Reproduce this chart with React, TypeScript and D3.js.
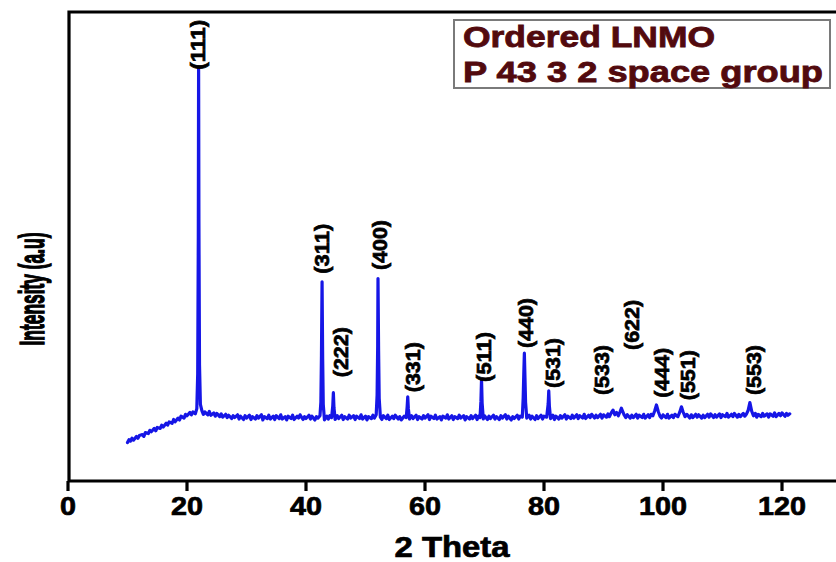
import React from "react";
import * as d3 from "d3";

// Measured XRD pattern: [2θ (deg), intensity (a.u.)]
const trace: [number, number][] = [
  [10.0, 84], [10.25, 90], [10.5, 87], [10.75, 93], [11.0, 89], [11.5, 97], [11.75, 93], [12.0, 99], [12.5, 101],
  [12.75, 97], [13.0, 105], [13.5, 103], [13.75, 110], [14.0, 107], [14.5, 114], [14.75, 109], [15.0, 116],
  [15.5, 114], [15.75, 121], [16.0, 117], [16.5, 125], [16.75, 121], [17.0, 128], [17.5, 125], [17.75, 133],
  [18.0, 128], [18.5, 136], [18.75, 132], [19.0, 140], [19.5, 136], [19.75, 144], [20.0, 141], [20.5, 148],
  [20.75, 143], [21.0, 149], [21.4, 145], [21.65, 156], [21.8, 230], [21.9, 520], [21.95, 883], [22.0, 560],
  [22.1, 250], [22.25, 165], [22.5, 152], [22.75, 144], [23.0, 149], [23.5, 143], [23.75, 150], [24.0, 142],
  [24.5, 147], [24.75, 140], [25.0, 146], [25.5, 139], [25.75, 145], [26.0, 138], [26.5, 144], [26.75, 137],
  [27.0, 142], [27.5, 135], [27.75, 141], [28.0, 137], [28.5, 143], [28.75, 134], [29.0, 140], [29.5, 133],
  [29.75, 141], [30.0, 136], [30.5, 142], [30.75, 133], [31.0, 139], [31.5, 134], [31.75, 141], [32.0, 136],
  [32.5, 143], [32.75, 132], [33.0, 139], [33.5, 135], [33.75, 142], [34.0, 134], [34.5, 140], [34.75, 133],
  [35.0, 141], [35.5, 135], [35.75, 143], [36.0, 134], [36.5, 139], [36.75, 132], [37.0, 140], [37.5, 135],
  [37.75, 142], [38.0, 133], [38.5, 140], [38.75, 136], [39.0, 143], [39.5, 133], [39.75, 139], [40.0, 135],
  [40.5, 142], [40.75, 134], [41.0, 140], [41.5, 132], [41.75, 139], [42.0, 136], [42.35, 141],
  [42.5, 170], [42.6, 270], [42.7, 426], [42.8, 262], [42.9, 165], [43.1, 132], [43.5, 140], [43.75, 134],
  [44.0, 141], [44.3, 137], [44.5, 162], [44.6, 190], [44.7, 158], [44.9, 133], [45.25, 141], [45.5, 135],
  [46.0, 142], [46.25, 133], [46.5, 139], [47.0, 134], [47.25, 142], [47.5, 136], [48.0, 141], [48.25, 133],
  [48.5, 140], [49.0, 135], [49.25, 143], [49.5, 134], [50.0, 140], [50.25, 132], [50.5, 139], [51.0, 135],
  [51.25, 142], [51.5, 136], [51.8, 143], [51.95, 185], [52.05, 290], [52.1, 433], [52.2, 280], [52.3, 178],
  [52.5, 138], [52.75, 133], [53.0, 141], [53.5, 135], [53.75, 142], [54.0, 133], [54.5, 140], [54.75, 135],
  [55.0, 142], [55.5, 134], [55.75, 139], [56.0, 132], [56.5, 140], [56.85, 137], [57.0, 160], [57.1, 181],
  [57.2, 156], [57.4, 134], [57.75, 141], [58.0, 135], [58.5, 142], [58.75, 133], [59.0, 139], [59.5, 134],
  [59.75, 141], [60.0, 136], [60.5, 143], [60.75, 133], [61.0, 140], [61.5, 135], [61.75, 142], [62.0, 134],
  [62.5, 139], [62.75, 132], [63.0, 140], [63.5, 136], [63.75, 143], [64.0, 134], [64.5, 141], [64.75, 133],
  [65.0, 139], [65.5, 135], [65.75, 142], [66.0, 136], [66.5, 141], [66.75, 132], [67.0, 139], [67.5, 134],
  [67.75, 141], [68.0, 135], [68.5, 142], [68.75, 133], [69.0, 140], [69.25, 137], [69.4, 172], [69.5, 218],
  [69.6, 168], [69.8, 134], [70.0, 141], [70.5, 133], [70.75, 140], [71.0, 135], [71.5, 142], [71.75, 134],
  [72.0, 139], [72.5, 133], [72.75, 141], [73.0, 136], [73.5, 143], [73.75, 134], [74.0, 140], [74.5, 132],
  [74.75, 139], [75.0, 135], [75.5, 142], [75.75, 134], [76.0, 140], [76.35, 138], [76.5, 178],
  [76.6, 228], [76.7, 274], [76.8, 222], [76.9, 170], [77.1, 136], [77.5, 142], [77.75, 134], [78.0, 140],
  [78.5, 133], [78.75, 141], [79.0, 135], [79.5, 142], [79.75, 134], [80.0, 140], [80.45, 138], [80.7, 166],
  [80.8, 194], [80.9, 162], [81.1, 135], [81.5, 142], [81.75, 133], [82.0, 140], [82.5, 134], [82.75, 141],
  [83.0, 136], [83.5, 143], [83.75, 134], [84.0, 140], [84.5, 135], [84.75, 142], [85.0, 136], [85.5, 143],
  [85.75, 135], [86.0, 141], [86.5, 136], [86.75, 144], [87.0, 135], [87.5, 142], [87.75, 137], [88.0, 144],
  [88.5, 136], [88.75, 142], [89.0, 137], [89.5, 144], [89.75, 136], [90.0, 143], [90.5, 138], [90.75, 145],
  [91.0, 139], [91.3, 147], [91.6, 153], [91.9, 143], [92.2, 148], [92.5, 141], [92.8, 150], [93.0, 157],
  [93.2, 151], [93.5, 142], [93.75, 137], [94.0, 143], [94.5, 136], [94.75, 142], [95.0, 137], [95.5, 144],
  [95.75, 136], [96.0, 142], [96.5, 137], [96.75, 144], [97.0, 136], [97.5, 143], [97.75, 137], [98.0, 144],
  [98.3, 141], [98.6, 151], [98.9, 164], [99.2, 150], [99.5, 140], [99.75, 136], [100.0, 143], [100.5, 137],
  [100.75, 144], [101.0, 136], [101.5, 142], [101.75, 137], [102.0, 144], [102.5, 139], [102.8, 148],
  [103.1, 160], [103.35, 150], [103.7, 139], [104.0, 144], [104.5, 136], [104.75, 143], [105.0, 137],
  [105.5, 144], [105.75, 138], [106.0, 143], [106.5, 136], [106.75, 142], [107.0, 137], [107.5, 144],
  [107.75, 138], [108.0, 145], [108.5, 137], [108.75, 143], [109.0, 138], [109.5, 145], [109.75, 137],
  [110.0, 143], [110.5, 139], [110.75, 146], [111.0, 138], [111.5, 144], [111.75, 139], [112.0, 146],
  [112.5, 138], [112.75, 144], [113.0, 139], [113.5, 146], [113.75, 140], [114.0, 144], [114.3, 152],
  [114.6, 169], [114.9, 151], [115.2, 141], [115.5, 146], [115.75, 138], [116.0, 144], [116.5, 139],
  [116.75, 146], [117.0, 140], [117.5, 145], [117.75, 138], [118.0, 145], [118.5, 140], [118.75, 147],
  [119.0, 139], [119.5, 146], [119.75, 141], [120.0, 147], [120.5, 140], [120.75, 146], [121.0, 142],
  [121.3, 145],
];

// Miller indices of the indexed reflections
const hklLabels = ["(111)", "(311)", "(222)", "(400)", "(331)", "(511)", "(440)", "(531)", "(533)", "(622)", "(444)", "(551)", "(553)"];
// Where each index label sits: 2θ and intensity level of the label's lower end
const hklLabelTheta = [21.85, 42.64, 45.83, 52.44, 58.0, 69.9, 76.97, 81.5, 89.75, 94.79, 99.83, 104.2, 115.3];
const hklLabelLevel = [877, 443, 223, 451, 191, 213, 285, 200, 185, 281, 179, 174, 185];

const xTicks = [0, 20, 40, 60, 80, 100, 120];
const legendLines = ["Ordered LNMO", "P 43 3 2 space group"];

const W = 836;
const H = 562;
const left = 69;
const top = 12;
const bottom = 481;
const FONT = "'Liberation Sans', Arial, Helvetica, sans-serif";

export default function App() {
  const x = d3.scaleLinear().domain([0, 130]).range([68, 68 + 130 * 5.95]);
  const y = d3.scaleLinear().domain([0, 1000]).range([482, 12]);
  const right = x(130) + 4;

  const line = d3
    .line<[number, number]>()
    .x((d) => x(d[0]))
    .y((d) => y(d[1]))
    .curve(d3.curveLinear);

  const heavy = { stroke: "#000", strokeWidth: 0.7, paintOrder: "stroke" as const };

  return (
    <svg
      width={W}
      height={H}
      viewBox={`0 0 ${W} ${H}`}
      style={{ position: "absolute", left: 0, top: 0, background: "#fff" }}
    >
      <rect x={0} y={0} width={W} height={H} fill="#fff" />

      {/* pattern */}
      <path d={line(trace) ?? ""} fill="none" stroke="#1616e6" strokeWidth={3.2} strokeLinejoin="round" strokeLinecap="round" />

      {/* frame */}
      <path
        d={`M${left},${bottom} L${left},${top} L${right},${top} L${right},${bottom} Z`}
        fill="none"
        stroke="#000"
        strokeWidth={3.2}
      />

      {/* x ticks */}
      {xTicks.map((t) => (
        <g key={t}>
          <line x1={x(t)} x2={x(t)} y1={bottom} y2={bottom + 10} stroke="#000" strokeWidth={3.2} />
          <text
            x={x(t)}
            y={515}
            textAnchor="middle"
            fontFamily={FONT}
            fontWeight="bold"
            fontSize={26}
            textLength={16 * String(t).length}
            lengthAdjust="spacingAndGlyphs"
            fill="#000"
            {...heavy}
          >
            {t}
          </text>
        </g>
      ))}

      {/* axis titles */}
      <text
        x={452}
        y={557}
        textAnchor="middle"
        fontFamily={FONT}
        fontWeight="bold"
        fontSize={29}
        textLength={115}
        lengthAdjust="spacingAndGlyphs"
        fill="#000"
        {...heavy}
      >
        2 Theta
      </text>
      <text
        transform="translate(33,289) scale(2,1) rotate(-90)"
        dy="0.3em"
        textAnchor="middle"
        fontFamily={FONT}
        fontWeight="bold"
        fontSize={17.5}
        textLength={113}
        lengthAdjust="spacingAndGlyphs"
        fill="#000"
        stroke="#000"
        strokeWidth={0.7}
      >
        Intensity (a.u)
      </text>

      {/* reflection labels */}
      {hklLabels.map((lab, i) => (
        <text
          key={lab}
          transform={`translate(${x(hklLabelTheta[i])},${y(hklLabelLevel[i])}) rotate(-90)`}
          dy="0.34em"
          textAnchor="start"
          fontFamily={FONT}
          fontWeight="bold"
          fontSize={21}
          textLength={50}
          lengthAdjust="spacingAndGlyphs"
          fill="#000"
          {...heavy}
        >
          {lab}
        </text>
      ))}

      {/* legend box */}
      <rect x={454} y={20} width={376} height={68} fill="#fff" stroke="#7a7a7a" strokeWidth={2} />
      <text x={463} y={47} fontFamily={FONT} fontWeight="bold" fontSize={29} textLength={252} lengthAdjust="spacingAndGlyphs" fill="#520a0e" stroke="#520a0e" strokeWidth={0.8}>
        {legendLines[0]}
      </text>
      <text x={463} y={82} fontFamily={FONT} fontWeight="bold" fontSize={29} textLength={360} lengthAdjust="spacingAndGlyphs" fill="#520a0e" stroke="#520a0e" strokeWidth={0.8}>
        {legendLines[1]}
      </text>
    </svg>
  );
}
